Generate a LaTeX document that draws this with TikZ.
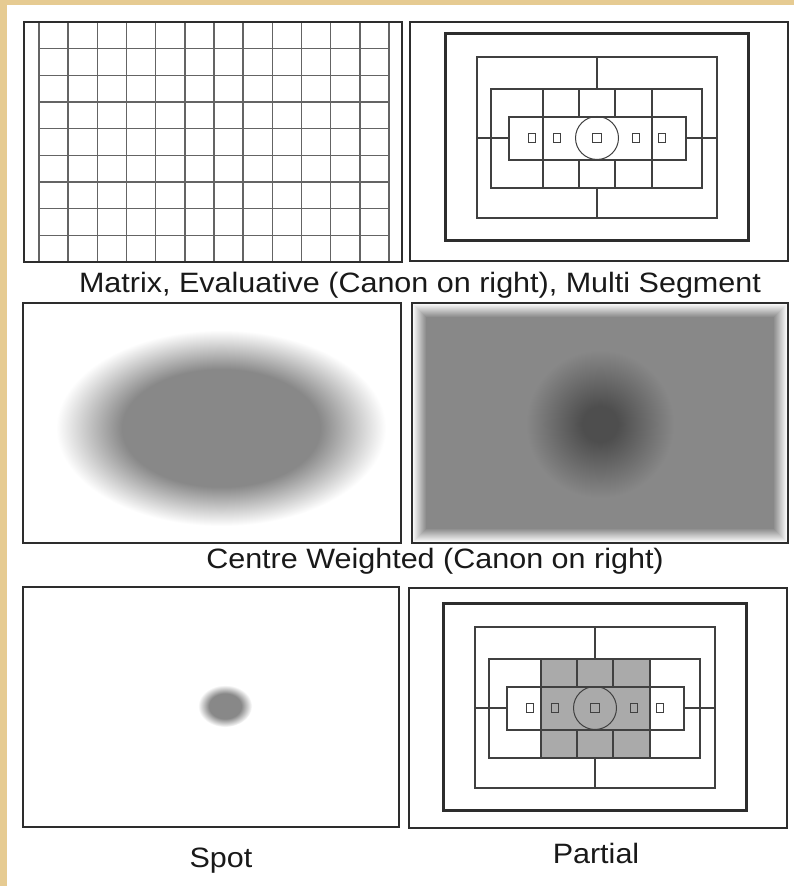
\documentclass[tikz,border=0pt]{standalone}
\usepackage{fontspec}
\setmainfont{Liberation Sans}
\usetikzlibrary{positioning}
\definecolor{marble}{RGB}{230,203,146}
\definecolor{frameink}{RGB}{45,45,45}
\definecolor{gridink}{RGB}{100,100,100}
\definecolor{weightgrey}{RGB}{136,136,136}
\definecolor{coregrey}{RGB}{78,78,78}
\definecolor{partgrey}{RGB}{170,170,170}
\pgfdeclareradialshading{blobshade}{\pgfpoint{0bp}{0bp}}{color(0bp)=(weightgrey); color(15bp)=(weightgrey); color(25bp)=(white); color(50bp)=(white)}
\pgfdeclareradialshading{coreshade}{\pgfpoint{0bp}{0bp}}{color(0bp)=(coregrey); color(6bp)=(coregrey); color(25bp)=(weightgrey); color(50bp)=(weightgrey)}

\begin{document}
\begin{tikzpicture}[
                x=1pt, y=-1pt,
                frame/.style={draw=frameink, line width=2.4},
                heavy/.style={draw=frameink, line width=3},
                seg/.style={draw=black!75, line width=1.3},
                gridline/.style={draw=gridink, line width=1.4},
                caption/.style={font=\fontsize{28}{32}\selectfont, text=black!90, anchor=base, inner sep=0pt, xscale=1.09}
            ]
                \useasboundingbox (0,0) rectangle (794,886);
                \fill[marble] (0,0) rectangle (794,886);
                \fill[white] (7,5) rectangle (794,886);

                % matrix grid
                \foreach \k in {0,...,12}
                    \draw[gridline] ({39+\k*29.17},22) -- ({39+\k*29.17},262);
                \foreach \k in {1,...,8}
                    \draw[gridline] (39,{22+\k*26.67}) -- (389,{22+\k*26.67});
                \draw[frame] (24,22) rectangle (402,262);

                % evaluative and partial patterns
                \draw[frame] (410,22) rectangle (788,261);
                \draw[frame] (409,588) rectangle (787,828);
                \foreach \cx/\cy/\fillcol in {597/138/white, 595/708/partgrey} {
                    \begin{scope}[shift={(\cx,\cy)}]
                        \fill[\fillcol] (-54,-49) rectangle (55,50);
                        \draw[heavy] (-152,-105) rectangle (151,102);
                        \draw[seg] (-120,-81) rectangle (120,80);
                        \draw[seg] (0,-81) -- (0,-49);
                        \draw[seg] (0,50) -- (0,80);
                        \draw[seg] (-106,-49) rectangle (105,50);
                        \draw[seg] (-88,-21) rectangle (89,22);
                        \draw[seg] (-120,0) -- (-88,0);
                        \draw[seg] (89,0) -- (120,0);
                        \draw[seg] (-54,-49) -- (-54,50);
                        \draw[seg] (55,-49) -- (55,50);
                        \foreach \vx in {-18,18} {
                            \draw[seg] (\vx,-49) -- (\vx,-21);
                            \draw[seg] (\vx,22) -- (\vx,50);
                        }
                        \draw[seg, line width=1] (0,0) circle (21.5);
                        \foreach \sx in {-65,-40,39,65}
                            \draw[seg, line width=1.1] ({\sx-3.5},-4.5) rectangle ({\sx+3.5},4.5);
                        \draw[seg, line width=1.4] (-4.5,-4.5) rectangle (4.5,4.5);
                    \end{scope}
                }

                % centre weighted
                \shade[shading=blobshade] (221,428) ellipse [x radius=165, y radius=98];
                \draw[frame] (23,303) rectangle (401,543);
                \foreach \k [evaluate=\k as \pct using {100*\k/14}] in {0,...,14}
                    \fill[weightgrey!\pct!white] ({412+\k},{303+\k}) rectangle ({788-\k},{543-\k});
                \shade[shading=coreshade] (600,424) circle (74);
                \draw[frame] (412,303) rectangle (788,543);

                % spot
                \shade[shading=blobshade] (225,706) ellipse [x radius=27, y radius=21];
                \draw[frame] (23,587) rectangle (399,827);

                \node[caption] (matrixlabel) at (420,292) {Matrix, Evaluative (Canon on right), Multi Segment};
                \node[caption] (centrelabel) at (435,568) {Centre Weighted (Canon on right)};
                \node[caption] (spotlabel) at (221,867) {Spot};
                \node[caption] (partiallabel) at (596,863) {Partial};
            \end{tikzpicture}
\end{document}
